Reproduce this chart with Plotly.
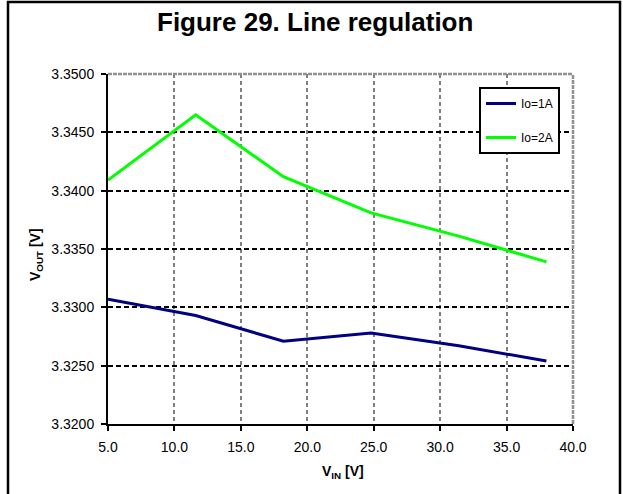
import plotly.graph_objects as go

vin = [5.0, 11.6, 18.2, 24.8, 31.4, 38.0]
vout_1a = [3.3307, 3.3293, 3.3271, 3.3278, 3.3267, 3.3254]
vout_2a = [3.3409, 3.3465, 3.3412, 3.3381, 3.3361, 3.3339]
series_names = ["Io=1A", "Io=2A"]
x_ticks = [5, 10, 15, 20, 25, 30, 35, 40]
y_ticks = [3.32, 3.325, 3.33, 3.335, 3.34, 3.345, 3.35]

W, H = 623, 494
ML, MR, MT, MB = 108, 50, 74, 70
PW, PH = W - ML - MR, H - MT - MB

def px(x):
    return (x - ML) / PW

def py(y):
    return (H - MB - y) / PH

fig = go.Figure()
fig.add_trace(go.Scatter(x=vin, y=vout_1a, mode="lines", name=series_names[0],
                         line=dict(color="#000080", width=3), legendgroup="a"))
fig.add_trace(go.Scatter(x=vin, y=vout_2a, mode="lines", name=series_names[1],
                         line=dict(color="#00FF00", width=3), legendgroup="b"))

font_family = "Liberation Sans, Arial, sans-serif"

fig.update_layout(
    width=W, height=H,
    margin=dict(l=ML, r=MR, t=MT, b=MB),
    paper_bgcolor="white", plot_bgcolor="white",
    font=dict(family=font_family, color="black", size=14),
    showlegend=True,
    legend=dict(x=px(479), y=py(87), xanchor="left", yanchor="top",
                bordercolor="black", borderwidth=2, bgcolor="white",
                font=dict(size=12), tracegroupgap=15, itemwidth=30),
    xaxis=dict(range=[5, 40], tickvals=x_ticks, tickformat=".1f",
               showline=True, linecolor="black", linewidth=2,
               ticks="outside", ticklen=5, tickwidth=2, tickcolor="black",
               showgrid=True, gridcolor="#808080", griddash="4px,3px", gridwidth=1.5,
               zeroline=False, tickfont=dict(size=14), ticklabelstandoff=4),
    yaxis=dict(range=[3.32, 3.35], tickvals=y_ticks, tickformat=".4f",
               showline=True, linecolor="black", linewidth=2,
               ticks="outside", ticklen=5, tickwidth=2, tickcolor="black",
               showgrid=True, gridcolor="black", griddash="5px,3px", gridwidth=2,
               zeroline=False, tickfont=dict(size=14), ticklabelstandoff=4),
)

# top and right borders of plot area (gray dashed) and outer frame
fig.add_shape(type="line", xref="paper", yref="paper", x0=0, x1=1, y0=1, y1=1,
              line=dict(color="#909090", width=2.5, dash="4px,1px"))
fig.add_shape(type="line", xref="paper", yref="paper", x0=1, x1=1, y0=0, y1=1,
              line=dict(color="#909090", width=2.5, dash="4px,1px"))
fig.add_shape(type="rect", xref="paper", yref="paper",
              x0=px(8), x1=px(620), y0=py(2), y1=py(510),
              line=dict(color="black", width=2.5))

fig.add_annotation(text="<b>Figure 29. Line regulation</b>", xref="paper", yref="paper",
                   x=px(315), y=py(22), xanchor="center", yanchor="middle", showarrow=False,
                   font=dict(size=26, family=font_family, color="black"))
fig.add_annotation(text="<b>V<sub>OUT</sub> [V]</b>", xref="paper", yref="paper",
                   x=px(36), y=py(255), xanchor="center", yanchor="middle", showarrow=False,
                   textangle=-90,
                   font=dict(size=14, family=font_family, color="black"))
fig.add_annotation(text="<b>V<sub>IN</sub> [V]</b>", xref="paper", yref="paper",
                   x=px(343), y=py(472), xanchor="center", yanchor="middle", showarrow=False,
                   font=dict(size=14, family=font_family, color="black"))

fig.write_html(
    "out.html",
    config={"displayModeBar": False},
    post_script="document.body.style.margin='0';document.body.style.overflow='hidden';",
)
